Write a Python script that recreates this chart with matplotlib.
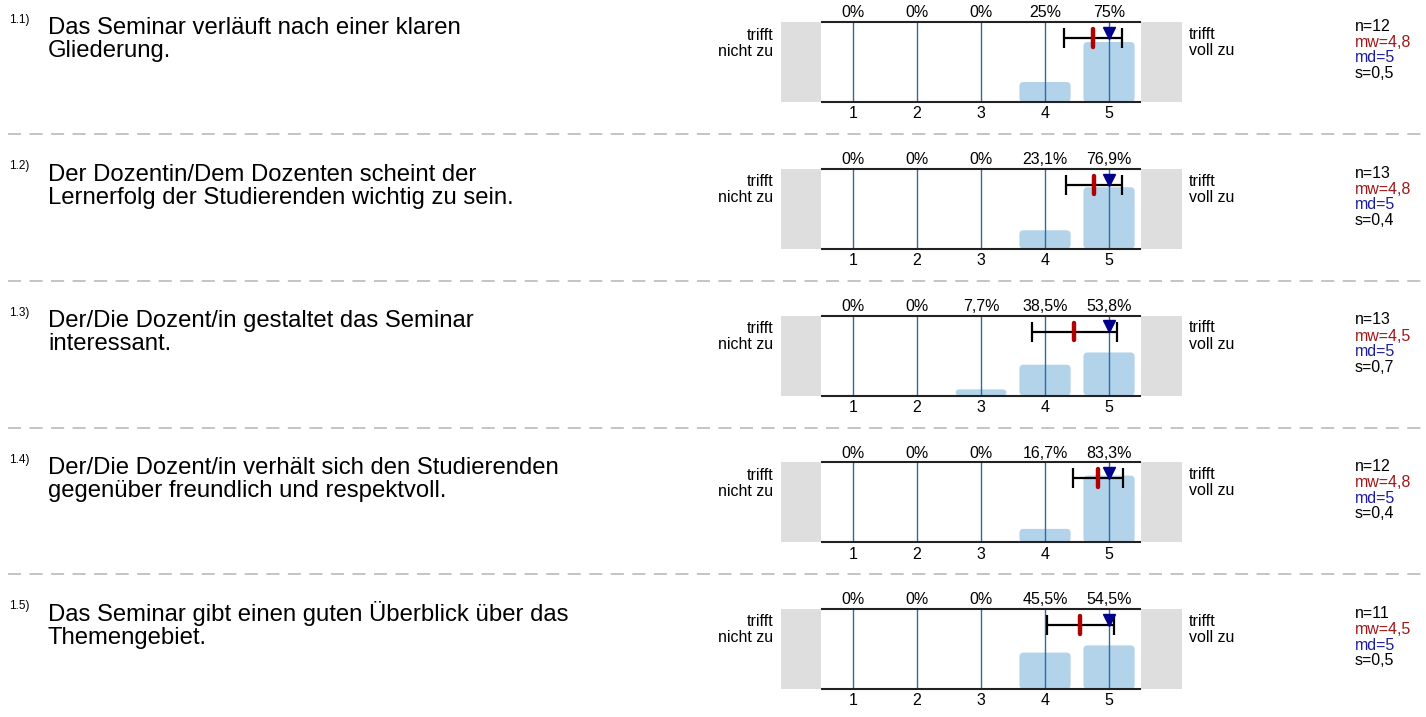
import matplotlib
matplotlib.use('Agg')
import matplotlib.pyplot as plt
from matplotlib.patches import FancyBboxPatch
from matplotlib.lines import Line2D

plt.rcParams['font.family'] = ['Liberation Sans', 'DejaVu Sans']
plt.rcParams['lines.scale_dashes'] = False

#%% data
item_ids = ['1.1)', '1.2)', '1.3)', '1.4)', '1.5)']
questions = [
    ['Das Seminar verläuft nach einer klaren', 'Gliederung.'],
    ['Der Dozentin/Dem Dozenten scheint der', 'Lernerfolg der Studierenden wichtig zu sein.'],
    ['Der/Die Dozent/in gestaltet das Seminar', 'interessant.'],
    ['Der/Die Dozent/in verhält sich den Studierenden', 'gegenüber freundlich und respektvoll.'],
    ['Das Seminar gibt einen guten Überblick über das', 'Themengebiet.'],
]
scale = [1, 2, 3, 4, 5]
pct = [
    [0, 0, 0, 25, 75],
    [0, 0, 0, 23.1, 76.9],
    [0, 0, 7.7, 38.5, 53.8],
    [0, 0, 0, 16.7, 83.3],
    [0, 0, 0, 45.5, 54.5],
]
n_vals = [12, 13, 13, 12, 11]
means = [4.75, 4.77, 4.46, 4.83, 4.55]
medians = [5, 5, 5, 5, 5]
sds = [0.45, 0.44, 0.66, 0.39, 0.52]
left_label = ['trifft', 'nicht zu']
right_label = ['trifft', 'voll zu']

W, H = 1426, 717
fig = plt.figure(figsize=(W / 100, H / 100), dpi=100)


def fx(px):
    return px / W


def fy(py):
    return 1 - py / H


def fmt(v):
    if float(v).is_integer():
        return '%d' % v
    return ('%.1f' % v).replace('.', ',')


bar_col = '#b3d3ea'
gray = '#dedede'
row_step = 146.75

for i in range(len(questions)):
    top = 22 + row_step * i

    # question text
    fig.text(fx(9), fy(top + 0.5), item_ids[i], fontsize=8.5, va='baseline')
    fig.text(fx(48), fy(top + 12), questions[i][0], fontsize=17.2, va='baseline')
    fig.text(fx(48), fy(top + 35), questions[i][1], fontsize=17.2, va='baseline')

    # side labels
    fig.text(fx(773), fy(top + 17.5), left_label[0], fontsize=11.5, ha='right', va='baseline')
    fig.text(fx(773), fy(top + 33.5), left_label[1], fontsize=11.5, ha='right', va='baseline')
    fig.text(fx(1189), fy(top + 17), right_label[0], fontsize=11.5, va='baseline')
    fig.text(fx(1189), fy(top + 33), right_label[1], fontsize=11.5, va='baseline')

    # stats
    fig.text(fx(1355), fy(top + 9), 'n=%d' % n_vals[i], fontsize=11.5, va='baseline')
    fig.text(fx(1355), fy(top + 25), 'mw=' + fmt(round(means[i], 1)), fontsize=11.5,
             va='baseline', color='#a01818')
    fig.text(fx(1355), fy(top + 40.5), 'md=' + fmt(medians[i]), fontsize=11.5,
             va='baseline', color='#1c1ca0')
    fig.text(fx(1355), fy(top + 56), 's=' + fmt(round(sds[i], 1)), fontsize=11.5, va='baseline')

    # chart
    ax = fig.add_axes([fx(781), fy(top + 80), fx(1182) - fx(781), 80 / H])
    ax.set_xlim(-0.125, 6.14)
    ax.set_ylim(0, 1)
    ax.axis('off')
    ax.axvspan(-0.125, 0.5, color=gray, lw=0, zorder=0)
    ax.axvspan(5.5, 6.14, color=gray, lw=0, zorder=0)

    for c, p in zip(scale, pct[i]):
        if p > 0:
            ax.add_patch(FancyBboxPatch((c - 0.4, 0), 0.8, p / 100,
                                        boxstyle='round,pad=0,rounding_size=0.065',
                                        mutation_aspect=0.8, fc=bar_col, ec='none', zorder=1))
        ax.annotate('%s%%' % fmt(p), (c, 1), xytext=(0, 4.7), textcoords='offset pixels',
                    ha='center', va='baseline', fontsize=11.5, annotation_clip=False)
        ax.annotate(str(c), (c, 0), xytext=(0, -16.3), textcoords='offset pixels',
                    ha='center', va='baseline', fontsize=11.5, annotation_clip=False)

    ax.vlines(scale, 0, 1, color='#2e6aa8', lw=1, zorder=2)
    ax.hlines([0, 1], 0.5, 5.5, color='#222222', lw=1.5, zorder=3, clip_on=False)

    ax.errorbar(means[i], 0.8, xerr=sds[i], color='black', lw=1.6, capsize=7,
                capthick=1.6, zorder=4)
    ax.plot([means[i], means[i]], [0.69, 0.91], color='#b00000', lw=3.2,
            solid_capstyle='round', zorder=5)
    ax.plot(medians[i], 0.865, marker='v', color='#000088', ms=8, zorder=6)

    # separator
    if i < len(questions) - 1:
        ysep = fy(top + 112)
        fig.add_artist(Line2D([fx(8), 1], [ysep, ysep], color='#b4b4b4', lw=1.1,
                              linestyle=(0, (9.4, 6.1))))

fig.savefig('out.png', dpi=100)
